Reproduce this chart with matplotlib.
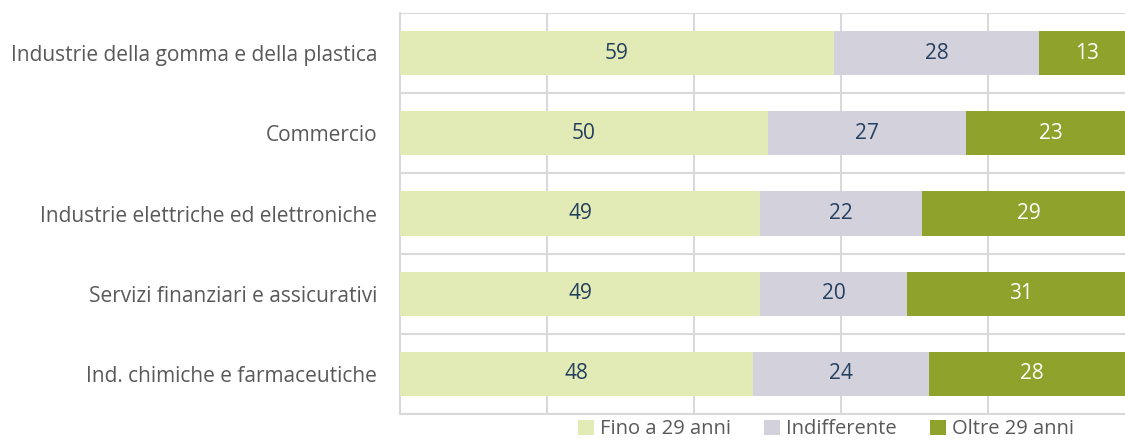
import numpy as np
import matplotlib.pyplot as plt

categories = [
    "Industrie della gomma e della plastica",
    "Commercio",
    "Industrie elettriche ed elettroniche",
    "Servizi finanziari e assicurativi",
    "Ind. chimiche e farmaceutiche",
]
fino_29 = [59, 50, 49, 49, 48]
indifferente = [28, 27, 22, 20, 24]
oltre_29 = [13, 23, 29, 31, 28]
series_names = ["Fino a 29 anni", "Indifferente", "Oltre 29 anni"]

colors = ["#E2EBB5", "#D3D1DC", "#8FA22B"]
text_colors = ["#243F60", "#243F60", "white"]

plt.rcParams["font.family"] = ["Open Sans", "DejaVu Sans"]

fig = plt.figure(figsize=(11.25, 4.41), dpi=100)
W, H = 1125, 441
x0, x1, y_top, y_bot = 400, 1135, 13, 414
ax = fig.add_axes([x0 / W, 1 - y_bot / H, (x1 - x0) / W, (y_bot - y_top) / H])

y = np.arange(len(categories))
left = np.zeros(len(categories))
handles = []
for vals, col, tcol, name in zip([fino_29, indifferente, oltre_29], colors, text_colors, series_names):
    vals = np.array(vals, dtype=float)
    bars = ax.barh(y, vals, left=left, height=0.55, color=col, label=name, zorder=3)
    handles.append(bars)
    for yi, l, v in zip(y, left, vals):
        ax.text(l + v / 2, yi, f"{v:.0f}", ha="center", va="center",
                fontsize=15, color=tcol, zorder=4)
    left += vals

ax.set_xlim(0, 100)
ax.set_ylim(len(categories) - 0.5, -0.5)
ax.set_yticks(y)
ax.set_yticklabels(categories, fontsize=15, color="#595959")
ax.set_xticks([20, 40, 60, 80])
ax.set_xticklabels([])
ax.tick_params(length=0, pad=16.5)

grid_col = "#D9D9D9"
ax.grid(axis="x", color=grid_col, linewidth=1.5, zorder=0)
for b in np.arange(-0.5, len(categories), 1.0):
    ax.axhline(b, color=grid_col, linewidth=1.5, zorder=1)
for s in ["top", "right"]:
    ax.spines[s].set_visible(False)
for s in ["left", "bottom"]:
    ax.spines[s].set_color(grid_col)
    ax.spines[s].set_linewidth(1.5)

fig.legend(handles=handles, loc="center", bbox_to_anchor=(826 / W, 1 - 429.5 / H),
           ncol=3, frameon=False, fontsize=14.5, handlelength=0.78, handleheight=0.78,
           handletextpad=0.3, columnspacing=1.65, labelcolor="#595959",
           borderpad=0, borderaxespad=0)

fig.savefig("out.png", dpi=100)
